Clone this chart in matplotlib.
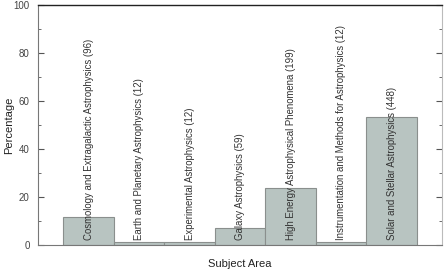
import matplotlib
matplotlib.use("Agg")
import matplotlib.pyplot as plt

plt.rcParams['font.family'] = ['Liberation Sans', 'DejaVu Sans']

areas = ['Cosmology and Extragalactic Astrophysics',
         'Earth and Planetary Astrophysics',
         'Experimental Astrophysics',
         'Galaxy Astrophysics',
         'High Energy Astrophysical Phenomena',
         'Instrumentation and Methods for Astrophysics',
         'Solar and Stellar Astrophysics']
counts = [96, 12, 12, 59, 199, 12, 448]
total = sum(counts)
percent = [100.0 * c / total for c in counts]
labels = [f'{a} ({c})' for a, c in zip(areas, counts)]

fig = plt.figure(figsize=(4.44, 2.71), dpi=100)
ax = fig.add_axes([0.0856, 0.096, 0.9099, 0.8855])

x = range(len(areas))
ax.bar(x, percent, width=1.0, color='#b8c4c1', edgecolor='#8a8f8d', linewidth=0.8)

for i, lab in enumerate(labels):
    ax.text(i, 2, lab, rotation=90, ha='center', va='bottom',
            fontsize=6.9, color='#333333')

ax.set_xlim(-1, 7)
ax.set_ylim(0, 100)
ax.set_xticks([])
ax.set_yticks(range(0, 101, 20))
ax.set_yticks(range(10, 100, 20), minor=True)
ax.tick_params(axis='y', which='both', direction='in', right=True,
               labelsize=7, labelcolor='#444444', color='#555555', pad=6)
ax.tick_params(axis='y', which='major', length=4)
ax.tick_params(axis='y', which='minor', length=2)

for side in ['left', 'bottom', 'right']:
    ax.spines[side].set_color('#777777')
    ax.spines[side].set_linewidth(0.8)
ax.spines['right'].set_color('#bbbbbb')
ax.spines['top'].set_color('#222222')
ax.spines['top'].set_linewidth(1.0)

ax.set_xlabel('Subject Area', fontsize=8, color='#222222', labelpad=10)
ax.set_ylabel('Percentage', fontsize=8, color='#222222')
ax.yaxis.set_label_coords(-0.06, 0.5)

fig.savefig('out.png', dpi=100)
